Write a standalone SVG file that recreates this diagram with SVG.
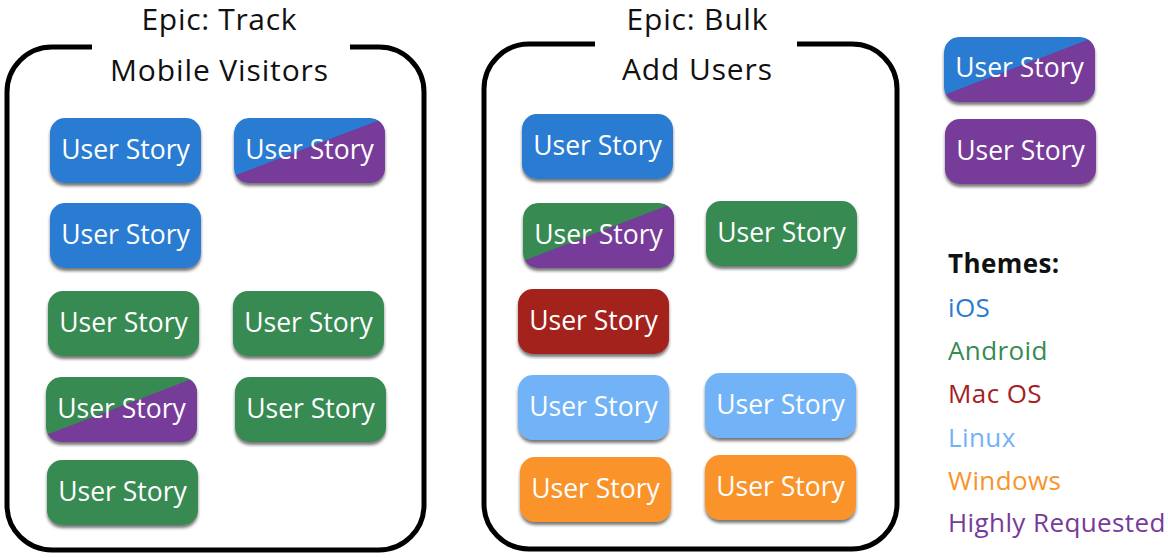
<svg xmlns="http://www.w3.org/2000/svg" width="1168" height="558" viewBox="0 0 1168 558">
  <style>
    .frame { fill: none; stroke: #000; stroke-width: 5; }
    .title { font-family: "Open Sans", Lato, sans-serif; font-size: 30px; fill: #111; text-anchor: middle; }
    .label { font-family: "Open Sans", Lato, sans-serif; font-size: 26.5px; fill: #fff; text-anchor: middle; }
    .legend { font-family: "Open Sans", Lato, sans-serif; font-size: 26px; letter-spacing: 0.4px; }
    .ios { fill: #2a7bd2; }
    .android { fill: #378a52; }
    .mac { fill: #a3221f; }
    .linux { fill: #72b2f7; }
    .windows { fill: #f9932a; }
    .req { fill: #773a99; }
  </style>
  <defs>
    <filter id="shadow" x="-10%" y="-10%" width="120%" height="130%">
      <feDropShadow dx="0" dy="3" stdDeviation="1.5" flood-color="#222" flood-opacity="0.6"/>
    </filter>
    <clipPath id="pill" clipPathUnits="userSpaceOnUse">
      <rect x="0" y="0" width="151" height="65" rx="15"/>
    </clipPath>
    <!-- plain story card -->
    <rect id="card" x="0" y="0" width="151" height="65" rx="15"/>
    <!-- lower-right triangle for the "Highly Requested" half -->
    <polygon id="half" points="0,58 151,0 151,65 0,65"/>
  </defs>

  <!-- epic frames -->
  <g id="epic-track">
    <path class="frame" d="M 92 47 H 52 A 45 45 0 0 0 7 92 V 505 A 45 45 0 0 0 52 550 H 379 A 45 45 0 0 0 424 505 V 92 A 45 45 0 0 0 379 47 H 350"/>
    <text class="title" x="219" y="30" textLength="155" lengthAdjust="spacing">Epic: Track</text>
    <text class="title" x="219" y="81" textLength="218" lengthAdjust="spacing">Mobile Visitors</text>
  </g>
  <g id="epic-bulk">
    <path class="frame" d="M 595 44 H 529 A 45 45 0 0 0 484 89 V 504 A 45 45 0 0 0 529 549 H 852 A 45 45 0 0 0 897 504 V 89 A 45 45 0 0 0 852 44 H 797"/>
    <text class="title" x="697" y="30" textLength="141" lengthAdjust="spacing">Epic: Bulk</text>
    <text class="title" x="697" y="80" textLength="150" lengthAdjust="spacing">Add Users</text>
  </g>

  <!-- stories: Track Mobile Visitors -->
  <g id="t1" transform="translate(50,118)"><use href="#card" class="ios" filter="url(#shadow)"/><text class="label" x="75.5" y="41">User Story</text></g>
  <g id="t2" transform="translate(234,118)"><g filter="url(#shadow)"><g clip-path="url(#pill)"><use href="#card" class="ios"/><use href="#half" class="req"/></g></g><text class="label" x="75.5" y="41">User Story</text></g>
  <g id="t3" transform="translate(50,203)"><use href="#card" class="ios" filter="url(#shadow)"/><text class="label" x="75.5" y="41">User Story</text></g>
  <g id="t4" transform="translate(48,291)"><use href="#card" class="android" filter="url(#shadow)"/><text class="label" x="75.5" y="41">User Story</text></g>
  <g id="t5" transform="translate(233,291)"><use href="#card" class="android" filter="url(#shadow)"/><text class="label" x="75.5" y="41">User Story</text></g>
  <g id="t6" transform="translate(46,377)"><g filter="url(#shadow)"><g clip-path="url(#pill)"><use href="#card" class="android"/><use href="#half" class="req"/></g></g><text class="label" x="75.5" y="41">User Story</text></g>
  <g id="t7" transform="translate(235,377)"><use href="#card" class="android" filter="url(#shadow)"/><text class="label" x="75.5" y="41">User Story</text></g>
  <g id="t8" transform="translate(47,460)"><use href="#card" class="android" filter="url(#shadow)"/><text class="label" x="75.5" y="41">User Story</text></g>

  <!-- stories: Bulk Add Users -->
  <g id="b1" transform="translate(522,114)"><use href="#card" class="ios" filter="url(#shadow)"/><text class="label" x="75.5" y="41">User Story</text></g>
  <g id="b2" transform="translate(523,203)"><g filter="url(#shadow)"><g clip-path="url(#pill)"><use href="#card" class="android"/><use href="#half" class="req"/></g></g><text class="label" x="75.5" y="41">User Story</text></g>
  <g id="b3" transform="translate(706,201)"><use href="#card" class="android" filter="url(#shadow)"/><text class="label" x="75.5" y="41">User Story</text></g>
  <g id="b4" transform="translate(518,289)"><use href="#card" class="mac" filter="url(#shadow)"/><text class="label" x="75.5" y="41">User Story</text></g>
  <g id="b5" transform="translate(518,375)"><use href="#card" class="linux" filter="url(#shadow)"/><text class="label" x="75.5" y="41">User Story</text></g>
  <g id="b6" transform="translate(705,373)"><use href="#card" class="linux" filter="url(#shadow)"/><text class="label" x="75.5" y="41">User Story</text></g>
  <g id="b7" transform="translate(520,457)"><use href="#card" class="windows" filter="url(#shadow)"/><text class="label" x="75.5" y="41">User Story</text></g>
  <g id="b8" transform="translate(705,455)"><use href="#card" class="windows" filter="url(#shadow)"/><text class="label" x="75.5" y="41">User Story</text></g>

  <!-- legend -->
  <g id="legend-split" transform="translate(944,37)"><g filter="url(#shadow)"><g clip-path="url(#pill)"><use href="#card" class="ios"/><use href="#half" class="req"/></g></g><text class="label" x="75.5" y="40">User Story</text></g>
  <g id="legend-req" transform="translate(945,119)"><use href="#card" class="req" filter="url(#shadow)"/><text class="label" x="75.5" y="41">User Story</text></g>
  <g id="themes">
    <text class="legend" x="948" y="273" font-weight="bold" fill="#111" letter-spacing="0">Themes:</text>
    <text class="legend ios" x="948" y="317">iOS</text>
    <text class="legend android" x="948" y="360">Android</text>
    <text class="legend mac" x="948" y="403">Mac OS</text>
    <text class="legend linux" x="948" y="447">Linux</text>
    <text class="legend windows" x="948" y="490">Windows</text>
    <text class="legend req" x="948" y="532">Highly Requested</text>
  </g>
</svg>
